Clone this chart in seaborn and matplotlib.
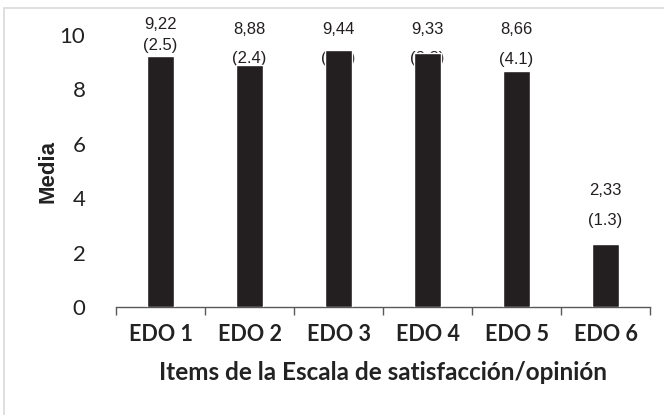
import matplotlib
matplotlib.use("Agg")
import matplotlib.pyplot as plt
import numpy as np
import pandas as pd
import seaborn as sns
from matplotlib.patches import Rectangle

# Item means and standard deviations
items = ["EDO 1", "EDO 2", "EDO 3", "EDO 4", "EDO 5", "EDO 6"]
means = [9.22, 8.88, 9.44, 9.33, 8.66, 2.33]
sds = [2.5, 2.4, 1.9, 2.3, 4.1, 1.3]
y_ticks = [0, 2, 4, 6, 8, 10]

df = pd.DataFrame({"item": items, "media": means})

sns.set_theme(style="white")
plt.rcParams["font.family"] = ["Lato", "DejaVu Sans"]

fig = plt.figure(figsize=(6.64, 4.15), dpi=100)
ax = fig.add_axes([0.1747, 0.2602, 0.8043, 0.6555])

# light outer frame of the chart area
fig.patches.append(Rectangle((4 / 664, -0.1), 1.2, 1 - 8 / 415 + 0.1,
                             transform=fig.transFigure, fill=False,
                             edgecolor="#d9d9d9", linewidth=1.2, zorder=0))

# value labels sit at fixed heights above the tall bars, drawn beneath the bars
label_rows = [(10.4, 9.6), (10.2, 9.15), (10.2, 9.15), (10.2, 9.15), (10.2, 9.1)]
for i, (m, s) in enumerate(zip(means, sds)):
    if i < len(label_rows):
        y_val, y_sd = label_rows[i]
    else:
        y_val, y_sd = m + 1.95, m + 0.85
    ax.text(i, y_val, f"{m:.2f}".replace(".", ","), ha="center", va="center",
            fontsize=12, family=["Liberation Sans"], color="#231f20", zorder=1)
    ax.text(i, y_sd, f"({s:.1f})", ha="center", va="center",
            fontsize=12, family=["Liberation Sans"], color="#231f20", zorder=1)

sns.barplot(data=df, x="item", y="media", color="#231f20", width=0.3,
            saturation=1, ax=ax, zorder=3)

ax.set_xlim(-0.5, len(items) - 0.5)
ax.set_ylim(0, 10)
ax.set_yticks(y_ticks)
ax.set_yticklabels([str(t) for t in y_ticks], fontsize=16, color="#222222")
ax.tick_params(axis="y", length=0, pad=22)

# category boundaries carry the tick marks, names sit between them
ax.set_xticks(np.arange(-0.5, len(items)), minor=False)
ax.set_xticklabels([""] * (len(items) + 1))
ax.set_xticks(np.arange(len(items)), minor=True)
ax.set_xticklabels(items, minor=True, fontsize=15.5, fontweight="bold", color="#222222")
ax.tick_params(axis="x", which="major", length=6, width=1, color="#595959",
               direction="out", bottom=True)
ax.tick_params(axis="x", which="minor", length=0, pad=12)

for side in ["left", "top", "right"]:
    ax.spines[side].set_visible(False)
ax.spines["bottom"].set_color("#595959")
ax.spines["bottom"].set_linewidth(1)

ax.set_xlabel("Items de la Escala de satisfacción/opinión", fontsize=17.5,
              fontweight="bold", color="#222222", labelpad=12)
ax.set_ylabel("Media", fontsize=16, fontweight="bold", color="#222222",
              family=["Liberation Sans"])
ax.yaxis.set_label_coords(-0.108, 0.5)

fig.savefig("out.png", dpi=100, facecolor="white")
